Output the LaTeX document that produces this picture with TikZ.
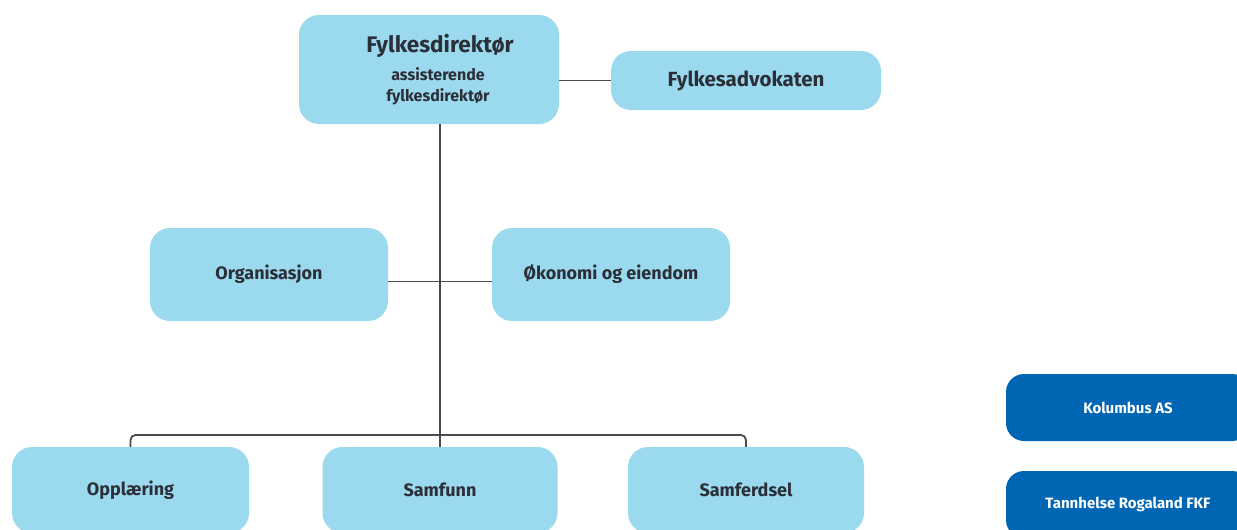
\documentclass[tikz,border=0pt]{standalone}
\usepackage{fontspec}
\setmainfont{Fira Sans}
\definecolor{lightbox}{HTML}{9BD9EE}
\definecolor{darkbox}{HTML}{0066B3}
\definecolor{txt}{HTML}{2B2F38}
\definecolor{conn}{HTML}{4A4A52}
\begin{document}
\begin{tikzpicture}[x=1pt,y=-1pt,
  lbox/.style={draw=none,fill=lightbox,rounded corners=20pt,inner sep=0pt,
    text=txt,font=\bfseries\fontsize{18}{21}\selectfont,align=center},
  dbox/.style={draw=none,fill=darkbox,rounded corners=18pt,inner sep=0pt,
    text=white,font=\bfseries\fontsize{15}{18}\selectfont,align=center},
  conline/.style={draw=conn,line width=1.8pt}]
\useasboundingbox (0,0) rectangle (1237,530);
\clip (0,0) rectangle (1237,530);
\node[lbox,minimum width=260pt,minimum height=109pt] (dir) at (429,69.5) {};
\node[text=txt,font=\bfseries\fontsize{22.5}{26}\selectfont] (dirt) at (440,46) {Fylkesdirektør};
\node[text=txt,font=\bfseries\fontsize{16}{21}\selectfont,align=center] (dirs) at (438,86) {assisterende\\fylkesdirektør};
\node[lbox,minimum width=270pt,minimum height=59pt,font=\bfseries\fontsize{20.5}{24}\selectfont] (adv) at (746,80.5) {Fylkesadvokaten};
\node[lbox,minimum width=238pt,minimum height=93pt] (org) at (269,274.5) {Organisasjon};
\node[lbox,minimum width=238pt,minimum height=93pt] (oko) at (611,274.5) {Økonomi og eiendom};
\node[lbox,minimum width=237pt,minimum height=86pt] (opp) at (130.5,490) {Opplæring};
\node[lbox,minimum width=235pt,minimum height=86pt] (sam) at (440,490) {Samfunn};
\node[lbox,minimum width=236pt,minimum height=86pt] (samf) at (746,490) {Samferdsel};
\node[dbox,minimum width=244pt,minimum height=67pt] (kol) at (1128,407.5) {Kolumbus AS};
\node[dbox,minimum width=244pt,minimum height=67pt] (tan) at (1128,504.5) {Tannhelse Rogaland FKF};
\coordinate (bar) at (440,435);
\draw[conline] (dir.east |- adv.west) -- (adv.west);
\draw[conline] (dir.south -| sam.north) -- (sam.north);
\draw[conline] ([yshift=-7pt]org.east) -- ([yshift=-7pt]oko.west);
\draw[conline,rounded corners=5pt] (opp.north) |- (bar) -| (samf.north);
\end{tikzpicture}
\end{document}
